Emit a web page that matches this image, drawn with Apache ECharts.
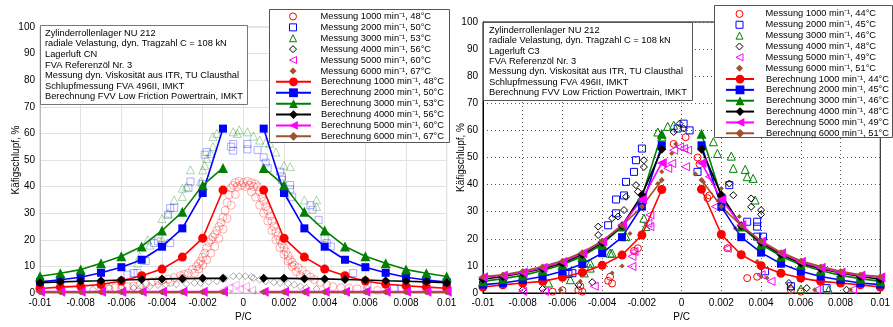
<!DOCTYPE html>
<html><head><meta charset="utf-8">
<script src="https://cdn.jsdelivr.net/npm/echarts@6/dist/echarts.min.js"></script>
<style>html,body{margin:0;padding:0;background:#fff}#c{width:893px;height:327px}</style>
</head><body><div id="c"></div>
<script>
// ---------- data ----------
const rpm = [1000, 2000, 3000, 4000, 5000, 6000];
const leftTemps = [48, 50, 53, 56, 60, 67];
const rightTemps = [44, 45, 46, 48, 49, 51];
const leftNoteLines = ['Zylinderrollenlager NU 212', 'radiale Velastung, dyn. Tragzahl C = 108 kN', 'Lagerluft CN', 'FVA Referenzöl Nr. 3', 'Messung dyn. Viskosität aus ITR, TU Clausthal', 'Schlupfmessung FVA 496II, IMKT', 'Berechnung FVV Low Friction Powertrain, IMKT'];
const rightNoteLines = ['Zylinderrollenlager NU 212', 'radiale Velastung, dyn. Tragzahl C = 108 kN', 'Lagerluft C3', 'FVA Referenzöl Nr. 3', 'Messung dyn. Viskosität aus ITR, TU Clausthal', 'Schlupfmessung FVA 496II, IMKT', 'Berechnung FVV Low Friction Powertrain, IMKT'];
const xAxisTitle = 'P/C';
const yAxisTitle = 'Käfigschlupf, %';

// P/C positions of calculated points (left half, right half)
const calcXNeg = [-0.01, -0.009, -0.008, -0.007, -0.006, -0.005, -0.004, -0.003, -0.002, -0.001];
const calcXPos = [0.001, 0.002, 0.003, 0.004, 0.005, 0.006, 0.007, 0.008, 0.009, 0.01];

// Left chart (Lagerluft CN) – Berechnung
const leftCalc1000 = [1.7, 2.2, 2.6, 3.2, 4.5, 6.5, 9.0, 13.5, 20.6, 38.7, 38.7, 20.6, 13.5, 9.0, 6.5, 4.5, 3.3, 2.7, 2.2, 1.8];
const leftCalc2000 = [4.2, 5.0, 5.9, 7.6, 9.7, 12.5, 17.4, 24.3, 37.6, 61.8, 61.8, 37.6, 24.3, 17.4, 12.5, 9.7, 7.6, 5.9, 4.9, 4.1];
const leftCalc3000 = [6.3, 7.4, 8.8, 11.2, 13.8, 17.5, 23.5, 30.5, 40.5, 47.0, 47.0, 40.5, 30.5, 23.5, 17.5, 13.8, 11.2, 8.8, 7.4, 6.2];
const leftCalc4000 = [3.9, 4.2, 4.4, 4.6, 4.9, 5.1, 5.3, 5.4, 5.5, 5.5, 5.5, 5.5, 5.4, 5.3, 5.1, 4.9, 4.6, 4.4, 4.2, 3.9];
const leftCalc5000 = [0.5, 0.5, 0.5, 0.5, 0.5, 0.5, 0.5, 0.5, 0.5, 0.5, 0.5, 0.5, 0.5, 0.5, 0.5, 0.5, 0.5, 0.5, 0.5, 0.5];
const leftCalc6000 = [0.3, 0.3, 0.3, 0.3, 0.3, 0.3, 0.3, 0.3, 0.3, 0.3, 0.3, 0.3, 0.3, 0.3, 0.3, 0.3, 0.3, 0.3, 0.3, 0.3];

// Left chart – Messung [P/C, slip %]
const leftMeas1000 = [[-0.0070,1.2],[-0.0066,1.6],[-0.0063,2.0],[-0.0060,1.5],[-0.0057,2.4],[-0.0054,2.6],[-0.0051,3.0],[-0.0048,3.6],[-0.0045,4.2],[-0.0042,4.6],[-0.0040,4.8],[-0.0037,5.2],[-0.0034,5.8],[-0.0031,6.5],[-0.0029,7.0],[-0.0027,7.5],[-0.0025,8.8],[-0.0023,10.0],[-0.0022,11.0],[-0.0021,12.0],[-0.0020,13.5],[-0.0019,15.0],[-0.0018,17.0],[-0.0017,19.0],[-0.0016,20.0],[-0.0015,21.0],[-0.0014,22.0],[-0.0013,23.5],[-0.0012,25.0],[-0.0011,26.5],[-0.0010,28.5],[-0.0009,31.0],[-0.0008,34.0],[-0.0007,37.0],[-0.0006,39.5],[-0.0005,40.5],[-0.0004,41.5],[-0.0003,40.0],[-0.0002,42.0],[-0.0001,40.5],[0.0000,41.5],[0.0001,40.0],[0.0002,42.0],[0.0003,40.5],[0.0004,41.5],[0.0005,40.0],[0.0006,41.0],[0.0007,40.0],[0.0008,38.0],[0.0009,36.0],[0.0010,34.5],[0.0011,32.5],[0.0012,31.0],[0.0013,29.0],[0.0014,27.0],[0.0015,25.0],[0.0016,23.0],[0.0017,21.5],[0.0018,20.0],[0.0019,18.5],[0.0020,17.0],[0.0021,15.5],[0.0022,14.0],[0.0023,12.5],[0.0024,11.5],[0.0025,10.5],[0.0027,9.5],[0.0029,8.5],[0.0031,7.0],[0.0033,6.0],[0.0035,5.0],[0.0038,4.0],[0.0041,3.0],[0.0044,2.4],[0.0048,2.0],[0.0052,1.8],[0.0056,1.6],[0.0061,1.3],[0.0066,1.0],
  [-0.0024,7.5],[-0.0022,9.0],[-0.0020,10.5],[-0.0018,12.5],[-0.0016,15.0],[-0.0014,17.5],[-0.0012,20.5],[-0.0010,24.0],[-0.0008,28.0],[-0.0006,33.0],[-0.0004,37.0],[0.0004,38.0],[0.0006,36.0],[0.0008,33.0],[0.0010,30.0],[0.0012,27.0],[0.0014,23.5],[0.0016,20.0],[0.0018,17.0],[0.0020,14.5],[0.0022,12.0],[0.0024,10.0],[0.0026,8.0],[0.0028,6.5],[-0.0030,5.5],[-0.0036,4.0]];
const leftMeas2000 = [[-0.0057,6.9],[-0.0054,7.5],[-0.0052,7.5],[-0.0048,12.0],[-0.0044,18.8],[-0.0042,19.4],[-0.0040,18.0],[-0.0037,29.4],[-0.0036,31.9],[-0.0036,18.8],[-0.0034,32.0],[-0.0027,39.4],[-0.0026,41.9],[-0.0020,41.0],[-0.0019,52.0],[-0.0018,53.0],[-0.0006,55.0],[-0.0005,53.5],[-0.0005,56.0],[0.0002,54.0],[0.0002,56.0],[0.0007,53.8],[0.0010,51.0],[0.0011,49.0],[0.0012,47.0],[0.0018,45.6],[0.0019,43.8],[0.0019,42.5],[0.0023,40.6],[0.0023,39.0],[0.0024,36.0],[0.0033,33.0],[0.0034,31.3],[0.0037,27.5],[0.0040,20.6],[0.0041,18.8],[0.0043,17.5],[0.0054,7.5],[0.0061,3.1],[0.0074,1.9],[0.0078,1.5]];
const leftMeas3000 = [[-0.0052,11.3],[-0.0051,13.8],[-0.0047,20.0],[-0.0046,18.0],[-0.0040,20.0],[-0.0040,28.0],[-0.0037,30.0],[-0.0034,35.0],[-0.0030,36.3],[-0.0030,39.4],[-0.0028,40.0],[-0.0026,46.3],[-0.0021,42.0],[-0.0020,46.3],[-0.0019,48.0],[-0.0018,50.6],[-0.0016,52.5],[-0.0015,55.0],[-0.0015,58.8],[-0.0013,60.0],[-0.0005,60.6],[-0.0003,60.0],[-0.0002,61.3],[0.0002,60.6],[0.0005,59.0],[0.0008,57.5],[0.0011,56.5],[0.0013,56.3],[0.0016,53.0],[0.0020,48.0],[0.0023,47.5],[0.0030,35.0],[0.0036,35.0],[0.0036,32.5]];
const leftMeas4000 = [[-0.0074,1.3],[-0.0066,1.9],[-0.0060,2.2],[-0.0054,1.9],[-0.0050,2.5],[-0.0046,2.5],[-0.0042,3.0],[-0.0038,3.1],[-0.0033,3.3],[-0.0028,3.5],[-0.0024,3.8],[-0.0021,3.8],[-0.0017,4.2],[-0.0013,4.4],[-0.0009,5.5],[-0.0005,6.3],[-0.0002,6.3],[0.0001,6.3],[0.0004,6.0],[0.0005,5.6],[0.0008,5.0],[0.0011,4.4],[0.0015,4.0],[0.0018,3.8],[0.0022,3.5],[0.0025,3.1],[0.0028,2.5],[0.0031,1.9],[0.0036,1.5]];
const leftMeas5000 = [[-0.0060,0.3],[-0.0040,0.5],[-0.0010,1.0],[-0.0007,2.0],[-0.0004,3.0],[-0.0002,1.5],[0.0001,2.5],[0.0004,1.0],[0.0030,0.3],[0.0050,0.3]];
const leftMeas6000 = [[-0.0006,0.5],[0.0003,0.8],[0.0006,0.4]];

// Right chart (Lagerluft C3) – Berechnung
const rightCalc1000 = [2.2, 3.0, 3.7, 4.3, 5.8, 7.6, 10.2, 14.0, 21.4, 38.2, 38.3, 21.6, 14.1, 10.1, 7.3, 5.5, 4.3, 3.7, 3.0, 2.2];
const rightCalc2000 = [3.1, 3.7, 4.8, 6.1, 8.0, 10.7, 14.7, 20.6, 31.9, 54.5, 54.5, 31.8, 20.6, 14.9, 10.8, 8.0, 6.1, 4.8, 3.7, 3.1];
const rightCalc3000 = [4.3, 5.3, 6.5, 8.3, 10.4, 13.5, 18.0, 24.5, 35.5, 58.8, 58.8, 35.5, 24.5, 18.0, 13.5, 10.4, 8.3, 6.5, 5.3, 4.3];
const rightCalc4000 = [5.1, 6.1, 7.4, 9.0, 11.0, 14.2, 18.6, 24.8, 36.2, 53.0, 53.0, 36.2, 24.8, 18.6, 14.2, 11.0, 9.0, 7.4, 6.1, 5.1];
const rightCalc5000 = [5.8, 6.5, 7.6, 9.3, 11.5, 14.7, 19.0, 25.1, 34.5, 48.0, 48.0, 34.5, 25.1, 19.0, 14.7, 11.5, 9.3, 7.6, 6.5, 5.8];
const rightCalc6000 = [6.1, 6.7, 8.0, 9.8, 11.9, 15.0, 19.2, 24.8, 31.9, 41.7, 41.7, 31.9, 24.8, 19.2, 15.0, 11.9, 9.8, 8.0, 6.7, 6.1];

// Right chart – Messung
const rightMeas1000 = [[-0.0065,0.5],[-0.0060,1.0],[-0.0052,1.0],[-0.0051,2.5],[-0.0050,0.5],[-0.0037,4.5],[-0.0036,6.0],[-0.0035,3.5],[-0.0024,15.5],[-0.0022,16.5],[-0.0004,55.0],[0.0002,57.5],[0.0008,50.0],[0.0009,47.5],[0.0013,35.0],[0.0014,36.0],[0.0023,16.5],[0.0033,5.5],[0.0038,6.0],[0.0055,1.0],[0.0060,0.5]];
const rightMeas2000 = [[-0.0060,6.5],[-0.0057,7.0],[-0.0055,7.3],[-0.0037,25.0],[-0.0033,29.4],[-0.0033,34.5],[-0.0029,36.0],[-0.0028,41.0],[-0.0024,44.7],[-0.0023,49.0],[-0.0020,53.3],[-0.0002,60.7],[0.0001,62.5],[0.0004,60.0],[0.0008,44.7],[0.0024,39.8],[0.0033,26.3],[0.0038,26.3],[0.0038,24.5],[0.0038,20.8],[0.0041,20.8],[0.0042,8.0],[0.0055,2.5],[0.0073,1.8]];
const rightMeas3000 = [[-0.0067,3.7],[-0.0056,4.9],[-0.0049,7.4],[-0.0046,9.2],[-0.0046,11.0],[-0.0036,14.7],[-0.0035,14.7],[-0.0028,20.8],[-0.0019,27.6],[-0.0018,24.5],[-0.0012,59.4],[-0.0010,57.6],[-0.0007,61.5],[-0.0004,61.9],[0.0016,55.8],[0.0018,51.5],[0.0025,50.5],[0.0026,46.0],[0.0032,45.6],[0.0033,42.9],[0.0036,42.3],[0.0037,34.3],[0.0060,1.5],[0.0074,1.2]];
const rightMeas4000 = [[-0.0080,1.2],[-0.0070,1.5],[-0.0052,3.0],[-0.0045,4.0],[-0.0042,24.5],[-0.0042,21.4],[-0.0035,27.6],[-0.0032,28.2],[-0.0029,30.6],[-0.0028,35.5],[-0.0023,39.8],[-0.0022,37.4],[-0.0019,49.0],[-0.0019,46.5],[-0.0004,59.4],[-0.0001,62.5],[0.0001,60.7],[0.0024,40.4],[0.0026,36.1],[0.0035,34.9],[0.0035,31.8],[0.0040,30.6],[0.0040,29.0],[0.0054,3.7],[0.0055,1.8],[0.0063,1.8],[0.0083,1.2]];
const rightMeas5000 = [[-0.0080,0.6],[-0.0069,0.6],[-0.0044,2.5],[-0.0025,13.5],[-0.0025,9.8],[-0.0024,15.3],[-0.0017,25.7],[-0.0016,28.8],[-0.0016,24.5],[-0.0007,46.0],[-0.0005,47.8],[-0.0004,52.7],[-0.0001,53.9],[0.0001,53.3],[0.0003,52.7],[0.0002,46.6],[0.0014,42.9],[0.0017,31.9],[0.0023,16.5],[0.0040,6.7],[0.0045,4.3],[0.0068,1.2],[0.0086,1.2]];
const rightMeas6000 = [[-0.0061,1.2],[-0.0051,4.3],[-0.0035,7.4],[-0.0030,10.0],[-0.0026,22.0],[-0.0012,40.4],[-0.0010,44.7],[-0.0005,51.5],[-0.0003,55.0],[0.0007,43.9],[0.0011,41.0],[0.0020,38.6],[0.0029,28.2],[0.0027,23.9],[0.0038,11.6],[0.0040,6.1],[0.0043,5.5],[0.0067,1.2],[0.0085,1.2]];

// ---------- styling / building ----------
const FONT = "'Liberation Sans', Arial, sans-serif";
const colors = ['#ff0000', '#0000ff', '#008000', '#000000', '#ff00ff', '#a0522d'];
const symbols = ['circle', 'rect', 'triangle', 'diamond', 'triangle', 'diamond'];
const rotates = [0, 0, 0, 0, 90, 0];
const measSizeL = [8, 7, 8, 7, 8, 4];
const measSizeR = [7, 7, 8, 7, 8, 5];
const calcSize = [9, 8, 10, 9, 10, 6];
const LEFT_TRI = 'path://M10,0 L0,5 L10,10 Z';

const mName = (r, t) => 'Messung ' + r + ' min\u207B\u00B9, ' + t + '\u00B0C';
const cName = (r, t) => 'Berechnung ' + r + ' min\u207B\u00B9, ' + t + '\u00B0C';
const leftMNames = rpm.map((r, i) => mName(r, leftTemps[i]));
const leftCNames = rpm.map((r, i) => cName(r, leftTemps[i]));
const rightMNames = rpm.map((r, i) => mName(r, rightTemps[i]));
const rightCNames = rpm.map((r, i) => cName(r, rightTemps[i]));

function measStyle(i, op) {
  return i === 5 ? { color: colors[i], borderWidth: 0, opacity: op }
                 : { color: 'rgba(0,0,0,0)', borderColor: colors[i], borderWidth: 1, opacity: op };
}
function measSeries(name, data, i, axis, faded) {
  return {
    type: 'scatter', name, xAxisIndex: axis, yAxisIndex: axis, data,
    symbol: symbols[i], symbolRotate: rotates[i],
    symbolSize: faded ? measSizeL[i] : measSizeR[i],
    itemStyle: measStyle(i, faded ? 0.32 : 1), z: 2, silent: true
  };
}
function calcSeries(name, vals, i, axis) {
  const data = calcXNeg.map((x, k) => [x, vals[k]])
    .concat([[0, '-']])
    .concat(calcXPos.map((x, k) => [x, vals[k + 10]]));
  return {
    type: 'line', name, xAxisIndex: axis, yAxisIndex: axis, data,
    symbol: symbols[i], symbolRotate: rotates[i], symbolSize: calcSize[i], showAllSymbol: true,
    connectNulls: false, color: colors[i],
    lineStyle: { width: 1.6, color: colors[i] }, itemStyle: { color: colors[i] }, z: 3, silent: true
  };
}

const leftMeas = [leftMeas1000, leftMeas2000, leftMeas3000, leftMeas4000, leftMeas5000, leftMeas6000];
const leftCalc = [leftCalc1000, leftCalc2000, leftCalc3000, leftCalc4000, leftCalc5000, leftCalc6000];
const rightMeas = [rightMeas1000, rightMeas2000, rightMeas3000, rightMeas4000, rightMeas5000, rightMeas6000];
const rightCalc = [rightCalc1000, rightCalc2000, rightCalc3000, rightCalc4000, rightCalc5000, rightCalc6000];

const series = [];
leftMeas.forEach((d, i) => series.push(measSeries(leftMNames[i], d, i, 0, true)));
leftCalc.forEach((d, i) => series.push(calcSeries(leftCNames[i], d, i, 0)));
rightMeas.forEach((d, i) => series.push(measSeries(rightMNames[i], d, i, 1, false)));
rightCalc.forEach((d, i) => series.push(calcSeries(rightCNames[i], d, i, 1)));

const fmtX = v => String(parseFloat(Number(v).toFixed(4)));

function xAx(idx, dark) {
  return {
    type: 'value', gridIndex: idx, min: -0.01, max: 0.01, interval: 0.002,
    axisLine: { show: true, onZero: false, lineStyle: { color: dark ? '#000' : '#bbb', width: 1 } },
    axisTick: { show: false },
    axisLabel: { fontSize: 10, color: '#000', margin: 5, formatter: fmtX, fontFamily: FONT },
    splitLine: { show: true, lineStyle: dark ? { color: '#555', type: [1, 3], width: 1 } : { color: '#e2e2e2', width: 1 } },
    name: xAxisTitle, nameLocation: 'middle', nameGap: 19, nameMoveOverlap: false,
    nameTextStyle: { fontSize: 10, color: '#000', fontFamily: FONT }
  };
}
function yAx(idx, dark, gap) {
  return {
    type: 'value', gridIndex: idx, min: 0, max: 100, interval: 10,
    axisLine: { show: true, onZero: false, lineStyle: { color: dark ? '#000' : '#bbb', width: 1 } },
    axisTick: { show: false },
    axisLabel: { fontSize: 10, color: '#000', margin: 5, fontFamily: FONT },
    splitLine: { show: true, lineStyle: dark ? { color: '#555', type: [1, 3], width: 1 } : { color: '#e2e2e2', width: 1 } },
    name: yAxisTitle, nameLocation: 'middle', nameGap: gap, nameMoveOverlap: false,
    nameTextStyle: { fontSize: 10, color: '#000', fontFamily: FONT }
  };
}

// Messung legend: icon box only as wide as the symbol, shifted so its centre matches
function legendBlock(names, isMeas, left, top, itemWidth, textPad, lh) {
  return {
    orient: 'vertical', left, top, padding: 0, itemGap: 0, selectedMode: false,
    itemWidth, itemHeight: isMeas ? 7 : 11, z: 10,
    textStyle: { fontSize: 9.3, color: '#000', lineHeight: lh, padding: [0, 0, 0, textPad], fontFamily: FONT },
    data: names.map((n, i) => {
      if (!isMeas) return { name: n };
      const item = { name: n, itemStyle: measStyle(i, 1) };
      if (rotates[i] === 90) item.icon = LEFT_TRI;
      return item;
    })
  };
}

const noteStyle = lh => ({ fontSize: 9.3, fontWeight: 'normal', color: '#000', lineHeight: lh, fontFamily: FONT });

const option = {
  animation: false,
  backgroundColor: '#fff',
  textStyle: { fontFamily: FONT },
  grid: [
    { left: 40, top: 27, width: 406.7, height: 266.3, show: true, borderColor: '#c8c8c8', borderWidth: 1, backgroundColor: 'transparent' },
    { left: 483, top: 22, width: 409.7, height: 271.3, show: true, borderColor: '#000', borderWidth: 1, backgroundColor: 'transparent' }
  ],
  xAxis: [xAx(0, false), xAx(1, true)],
  yAxis: [yAx(0, false, 19), yAx(1, true, 17)],
  title: [
    { text: leftNoteLines.join('\n'), left: 40, top: 25, padding: [3, 5], borderColor: '#777', borderWidth: 1, backgroundColor: '#fff', textStyle: noteStyle(10.6), z: 9 },
    { text: rightNoteLines.join('\n'), left: 483, top: 22, padding: [3, 6], borderColor: '#555', borderWidth: 1, backgroundColor: '#fff', textStyle: noteStyle(10.4), z: 9 }
  ],
  graphic: [
    { type: 'rect', shape: { x: 269.5, y: 9.5, width: 180, height: 133 }, style: { fill: '#fff', stroke: '#555', lineWidth: 1 }, z: 8 },
    { type: 'rect', shape: { x: 714.5, y: 5.5, width: 178, height: 132 }, style: { fill: '#fff', stroke: '#555', lineWidth: 1 }, z: 8 }
  ],
  legend: [
    legendBlock(leftMNames, true, 289, 11, 7, 19, 10.9),
    legendBlock(leftCNames, false, 275, 76.4, 35, 5, 10.9),
    legendBlock(rightMNames, true, 735.5, 8.5, 7, 17.5, 10.85),
    legendBlock(rightCNames, false, 725, 73.6, 28, 7, 10.85)
  ],
  series
};

const chart = echarts.init(document.getElementById('c'), null, { renderer: 'canvas' });
chart.setOption(option);
</script>
</body></html>
